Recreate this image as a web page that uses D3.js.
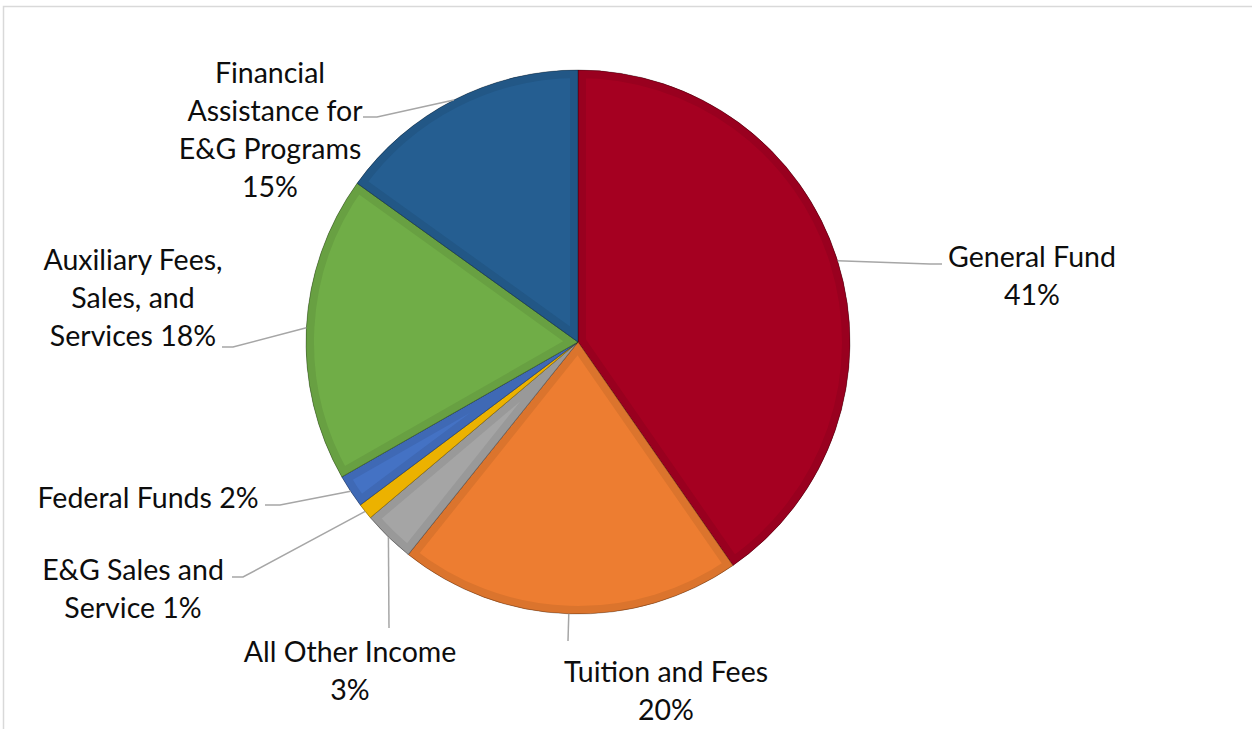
<!DOCTYPE html>
<html>
<head>
<meta charset="utf-8">
<script src="https://cdn.jsdelivr.net/npm/d3@7"></script>
<style>
  html, body { margin: 0; padding: 0; background: #fff; }
  svg { display: block; }
</style>
</head>
<body>
<svg id="chart" width="1252" height="729"></svg>
<script>
// ---- data ----
const categories = ["General Fund", "Tuition and Fees", "All Other Income", "E&G Sales and Service",
                    "Federal Funds", "Auxiliary Fees, Sales, and Services", "Financial Assistance for E&G Programs"];
const values = [40.4, 20.4, 3.1, 0.95, 1.97, 18.2, 15.1];
const percentLabels = ["41%", "20%", "3%", "1%", "2%", "18%", "15%"];
const labelLines = [
  ["General Fund", "41%"],
  ["Tuition and Fees", "20%"],
  ["All Other Income", "3%"],
  ["E&G Sales and", "Service 1%"],
  ["Federal Funds 2%"],
  ["Auxiliary Fees,", "Sales, and", "Services 18%"],
  ["Financial", "Assistance for", "E&G Programs", "15%"]
];
const colors = ["#A50021", "#ED7D31", "#A5A5A5", "#FFC000", "#4472C4", "#70AD47", "#255E91"];

// ---- layout (positions/styles) ----
const cx = 578, cy = 342, R = 272;
const fontSize = 28.5, lineH = 38;
// label center x, first baseline y, elbow point, end of leader, per-line x offsets
const layout = [
  { lx: 1032, ly: 267, elbow: [930, 264], end: [942, 264] },
  { lx: 666,  ly: 682, elbow: [568, 641], end: [568, 641] },
  { lx: 350,  ly: 662, elbow: [389, 628], end: [389, 628] },
  { lx: 133,  ly: 580, elbow: [243, 577], end: [232, 577] },
  { lx: 148,  ly: 508, elbow: [280, 505], end: [265, 505] },
  { lx: 133,  ly: 270, elbow: [233, 347], end: [222, 347] },
  { lx: 270,  ly: 83,  elbow: [377, 117], end: [363, 117], off: [0, 5, 0, 0] }
];

const svg = d3.select("#chart");

// chart area border (top and left visible)
svg.append("rect").attr("x", 3.5).attr("y", 6.5).attr("width", 1260).attr("height", 740)
  .attr("fill", "none").attr("stroke", "#D9D9D9").attr("stroke-width", 1.5);

const pie = d3.pie().sort(null).value(d => d)(values);
const arc = d3.arc().innerRadius(0).outerRadius(R);

const defs = svg.append("defs");
const g = svg.append("g").attr("transform", `translate(${cx},${cy})`);

pie.forEach((p, i) => {
  const id = "clip" + i;
  defs.append("clipPath").attr("id", id).append("path").attr("d", arc(p));
  g.append("path").attr("d", arc(p)).attr("fill", colors[i]);
  // bevel band inside the slice edge
  g.append("path").attr("d", arc(p)).attr("clip-path", `url(#${id})`)
    .attr("fill", "none").attr("stroke", d3.color(colors[i]).darker(0.22)).attr("stroke-width", 16)
    .attr("stroke-linejoin", "miter");
  g.append("path").attr("d", arc(p)).attr("fill", "none")
    .attr("stroke", "rgba(0,0,0,0.3)").attr("stroke-width", 1);
});

// leader lines & labels
pie.forEach((p, i) => {
  const mid = (p.startAngle + p.endAngle) / 2;
  const sx = cx + R * Math.sin(mid), sy = cy - R * Math.cos(mid);
  const L = layout[i];
  svg.append("path")
    .attr("d", d3.line()([[sx, sy], L.elbow, L.end]))
    .attr("fill", "none").attr("stroke", "#A6A6A6").attr("stroke-width", 1.5);
  const t = svg.append("text")
    .attr("x", L.lx).attr("y", L.ly)
    .attr("text-anchor", "middle")
    .attr("font-family", "Lato, 'Open Sans', sans-serif")
    .attr("font-size", fontSize).attr("fill", "#0D0D0D");
  labelLines[i].forEach((ln, k) => {
    const dx = L.off ? L.off[k] : 0;
    t.append("tspan").attr("x", L.lx + dx).attr("y", L.ly + k * lineH).text(ln);
  });
});
</script>
</body>
</html>
